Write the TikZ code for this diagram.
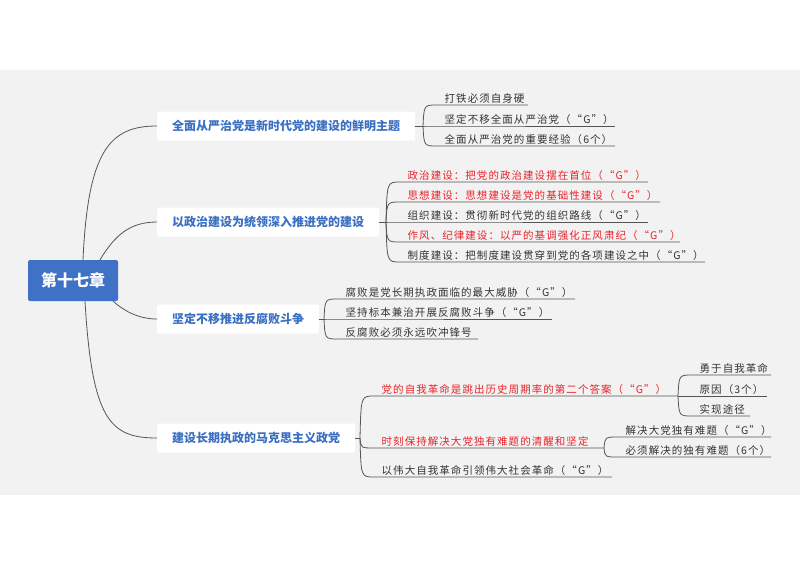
\documentclass[tikz,border=0pt]{standalone}
\usepackage{fontspec}
\newfontfamily\cjk{Noto Sans CJK SC}
\newfontfamily\cjkls[LetterSpace=10]{Noto Sans CJK SC}
\definecolor{bg}{HTML}{F2F2F2}
\definecolor{tblue}{HTML}{3A6FC2}
\definecolor{rootblue}{HTML}{3F72C6}
\definecolor{tred}{HTML}{E8232A}
\definecolor{tdark}{HTML}{333333}
\definecolor{ln}{HTML}{555555}
\tikzset{
  rootbox/.style={fill=rootblue,rounded corners=2pt,text=white,font=\cjk\fontsize{16}{18}\selectfont\bfseries,minimum width=90pt,minimum height=41pt,inner sep=0pt},
  mainbox/.style={fill=white,rounded corners=2pt,text=tblue,font=\cjk\fontsize{12}{14}\selectfont\bfseries,minimum height=29pt,inner xsep=15pt,anchor=west},
  leaf/.style={font=\cjkls\fontsize{10.5}{12}\selectfont,text=tdark,anchor=south west,inner sep=1.5pt},
  redleaf/.style={leaf,text=tred},
  conn/.style={draw=ln,line width=0.8pt},
}
% \kid{name}{xj}{yp}{yline}{xend}{style}{text}
\newcommand{\kid}[7]{%
  \coordinate (#1s) at (#2,#4);
  \coordinate (#1e) at (#5,#4);
  \draw[conn] (#2,#3) .. controls (#2+1,#4) .. (#2+14,#4) -- (#1e);
  \node[#6] (#1) at (#2+20,#4) {#7};
}
\begin{document}
\begin{tikzpicture}[x=1pt,y=-1pt]
\useasboundingbox (0,0) rectangle (800,566);
\fill[bg] (0,70) rectangle (800,495);
\node[rootbox] (root) at (73,280.5) {第十七章};
\node[mainbox] (a) at (157,126) {全面从严治党是新时代党的建设的鲜明主题};
\node[mainbox] (b) at (157,222) {以政治建设为统领深入推进党的建设};
\node[mainbox] (c) at (157,319) {坚定不移推进反腐败斗争};
\node[mainbox] (d) at (157,438) {建设长期执政的马克思主义政党};
\draw[conn] ([xshift=10pt]root.north) .. controls (88,150) and (110,126) .. (a.west);
\draw[conn] ([xshift=27pt]root.north) .. controls (115,235) and (130,222) .. (b.west);
\draw[conn] ([xshift=-5pt]root.south east) .. controls (125,312) and (140,319) .. (c.west);
\draw[conn] ([xshift=12pt]root.south) .. controls (92,420) and (110,438) .. (d.west);
% group a
\coordinate (ja) at (423,126);
\draw[conn] (a.east) -- (ja);
\kid{a1}{423}{126}{105}{528}{leaf}{打铁必须自身硬}
\kid{a2}{423}{126}{126}{615}{leaf}{坚定不移全面从严治党（“G”）}
\kid{a3}{423}{126}{146}{615}{leaf}{全面从严治党的重要经验（6个）}
% group b
\coordinate (jb) at (386,222);
\draw[conn] (b.east) -- (jb);
\kid{b1}{386}{222}{182}{648}{redleaf}{政治建设：把党的政治建设摆在首位（“G”）}
\kid{b2}{386}{222}{202}{660}{redleaf}{思想建设：思想建设是党的基础性建设（“G”）}
\kid{b3}{386}{222}{222}{648}{leaf}{组织建设：贯彻新时代党的组织路线（“G”）}
\kid{b4}{386}{222}{242}{680}{redleaf}{作风、纪律建设：以严的基调强化正风肃纪（“G”）}
\kid{b5}{386}{222}{262}{705}{leaf}{制度建设：把制度建设贯穿到党的各项建设之中（“G”）}
% group c
\coordinate (jc) at (324,319);
\draw[conn] (c.east) -- (jc);
\kid{c1}{324}{319}{299}{575}{leaf}{腐败是党长期执政面临的最大威胁（“G”）}
\kid{c2}{324}{319}{319}{552}{leaf}{坚持标本兼治开展反腐败斗争（“G”）}
\kid{c3}{324}{319}{339}{478}{leaf}{反腐败必须永远吹冲锋号}
% group d
\coordinate (jd) at (360,438);
\draw[conn] (d.east) -- (jd);
\kid{d1}{360}{438}{396}{678}{redleaf}{党的自我革命是跳出历史周期率的第二个答案（“G”）}
\kid{d2}{360}{438}{448}{604}{redleaf}{时刻保持解决大党独有难题的清醒和坚定}
\kid{d3}{360}{438}{477}{612}{leaf}{以伟大自我革命引领伟大社会革命（“G”）}
% d1 sub
\kid{e1}{678}{396}{375}{771}{leaf}{勇于自我革命}
\kid{e2}{678}{396}{396}{767}{leaf}{原因（3个）}
\kid{e3}{678}{396}{416}{750}{leaf}{实现途径}
% d2 sub
\kid{f1}{604}{448}{437}{771}{leaf}{解决大党独有难题（“G”）}
\kid{f2}{604}{448}{457}{771}{leaf}{必须解决的独有难题（6个）}
\end{tikzpicture}
\end{document}
